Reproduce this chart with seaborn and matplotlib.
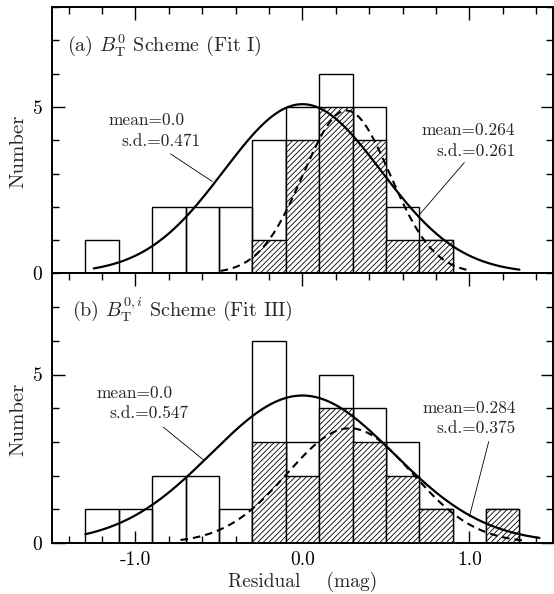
import numpy as np
import matplotlib
matplotlib.use("Agg")
import matplotlib.pyplot as plt
import seaborn as sns
from matplotlib.ticker import MultipleLocator, FixedLocator

# histogram bins (width 0.2 mag)
bin_edges = [-1.3, -1.1, -0.9, -0.7, -0.5, -0.3, -0.1, 0.1, 0.3, 0.5, 0.7, 0.9, 1.1, 1.3]
bin_centers = [-1.2, -1.0, -0.8, -0.6, -0.4, -0.2, 0.0, 0.2, 0.4, 0.6, 0.8, 1.0, 1.2]

# panel (a) counts
counts_a_all = [1, 0, 2, 2, 2, 4, 5, 6, 5, 2, 1, 0, 0]
counts_a_sub = [0, 0, 0, 0, 0, 1, 4, 5, 4, 1, 1, 0, 0]
# panel (b) counts
counts_b_all = [1, 1, 2, 2, 1, 6, 3, 5, 4, 3, 1, 0, 1]
counts_b_sub = [0, 0, 0, 0, 0, 3, 2, 4, 3, 2, 1, 0, 1]

# gaussian fits (mean, sd) as labelled
fit_a_all = (0.0, 0.471)
fit_a_sub = (0.264, 0.261)
fit_b_all = (0.0, 0.547)
fit_b_sub = (0.284, 0.375)

# x extent of the drawn curves
span_a_all = (-1.25, 1.30)
span_a_sub = (-0.49, 1.00)
span_b_all = (-1.30, 1.42)
span_b_sub = (-0.73, 1.33)

panel_titles = [r"(a) $B^{0}_{\rm T}$ Scheme (Fit I)", r"(b) $B^{0,i}_{\rm T}$ Scheme (Fit III)"]

sns.set_style("ticks")
plt.rcParams["font.family"] = ["cmr10", "DejaVu Serif"]
plt.rcParams["mathtext.fontset"] = "cm"
plt.rcParams["axes.unicode_minus"] = False
plt.rcParams["axes.formatter.use_mathtext"] = True
plt.rcParams["hatch.color"] = "black"
plt.rcParams["hatch.linewidth"] = 0.6

BW = 0.2


def gauss_curve(fit, n, span):
    mu, sd = fit
    xs = np.linspace(span[0], span[1], 300)
    ys = n * BW / (sd * np.sqrt(2 * np.pi)) * np.exp(-(xs - mu) ** 2 / (2 * sd ** 2))
    return xs, ys


def draw_panel(ax, all_counts, sub_counts, fit_all, fit_sub, span_all, span_sub):
    sns.histplot(x=bin_centers, weights=all_counts, bins=bin_edges, ax=ax,
                 fill=False, color="black", linewidth=1.0)
    n_before = len(ax.patches)
    sns.histplot(x=bin_centers, weights=sub_counts, bins=bin_edges, ax=ax,
                 fill=True, color="white", linewidth=1.0)
    for p in ax.patches[n_before:]:
        p.set_facecolor("white")
        p.set_edgecolor("black")
        p.set_alpha(1)
        p.set_hatch("//////")
        p.set_linewidth(1.0)

    xs, ys = gauss_curve(fit_all, sum(all_counts), span_all)
    sns.lineplot(x=xs, y=ys, ax=ax, color="black", lw=1.6, sort=False, estimator=None)
    xs, ys = gauss_curve(fit_sub, sum(sub_counts), span_sub)
    sns.lineplot(x=xs, y=ys, ax=ax, color="black", lw=1.5, sort=False, estimator=None,
                 linestyle=(0, (3.6, 2.4)))

    ax.set_xlim(-1.5, 1.5)
    ax.set_ylim(0, 8)
    ax.xaxis.set_major_locator(FixedLocator([-1.0, 0.0, 1.0]))
    ax.xaxis.set_minor_locator(MultipleLocator(0.2))
    ax.yaxis.set_major_locator(FixedLocator([0, 5]))
    ax.yaxis.set_minor_locator(MultipleLocator(1))
    ax.tick_params(which="both", direction="in", top=True, right=True, width=1.0,
                   labelsize=14, colors="black")
    ax.tick_params(which="major", length=9)
    ax.tick_params(which="minor", length=5)
    ax.tick_params(axis="y", pad=7)
    ax.tick_params(axis="x", pad=6)
    for s in ax.spines.values():
        s.set_linewidth(1.4)
        s.set_color("black")
    ax.set_ylabel("Number", fontsize=15)
    ax.yaxis.set_label_coords(-0.05, 0.46)


fig = plt.figure(figsize=(5.54, 5.94), dpi=100)
ax_a = fig.add_axes([0.0939, 0.5397, 0.904, 0.4485])
ax_b = fig.add_axes([0.0939, 0.0859, 0.904, 0.4538])

draw_panel(ax_a, counts_a_all, counts_a_sub, fit_a_all, fit_a_sub, span_a_all, span_a_sub)
draw_panel(ax_b, counts_b_all, counts_b_sub, fit_b_all, fit_b_sub, span_b_all, span_b_sub)

ax_a.tick_params(axis="x", which="both", bottom=False, labelbottom=False)
ax_b.set_yticklabels(["0", "5"])
ax_a.set_yticklabels(["0", "5"])
ax_b.set_xticklabels(["-1.0", "0.0", "1.0"])
ax_b.set_xlabel("Residual    (mag)", fontsize=14, labelpad=2)

ax_a.text(-1.41, 6.68, panel_titles[0], fontsize=14.5, ha="left", va="baseline")
ax_b.text(-1.38, 6.70, panel_titles[1], fontsize=14.5, ha="left", va="baseline")

note = 12.5
# panel (a) annotations
ax_a.text(-1.164, 4.45, "mean=0.0", fontsize=note, va="baseline")
ax_a.text(-1.083, 3.83, "s.d.=0.471", fontsize=note, va="baseline")
ax_a.plot([-0.790, -0.540], [3.59, 2.76], color="black", lw=0.6)
ax_a.text(1.276, 4.16, "mean=0.264", fontsize=note, va="baseline", ha="right")
ax_a.text(1.276, 3.53, "s.d.=0.261", fontsize=note, va="baseline", ha="right")
ax_a.plot([0.97, 0.70], [3.33, 1.76], color="black", lw=0.6)

# panel (b) annotations
ax_b.text(-1.236, 4.31, "mean=0.0", fontsize=note, va="baseline")
ax_b.text(-1.154, 3.71, "s.d.=0.547", fontsize=note, va="baseline")
ax_b.plot([-0.834, -0.594], [3.44, 2.47], color="black", lw=0.6)
ax_b.text(1.28, 3.86, "mean=0.284", fontsize=note, va="baseline", ha="right")
ax_b.text(1.28, 3.26, "s.d.=0.375", fontsize=note, va="baseline", ha="right")
ax_b.plot([1.116, 1.00], [3.01, 0.78], color="black", lw=0.6)

fig.savefig("out.png", dpi=100, facecolor="white")
